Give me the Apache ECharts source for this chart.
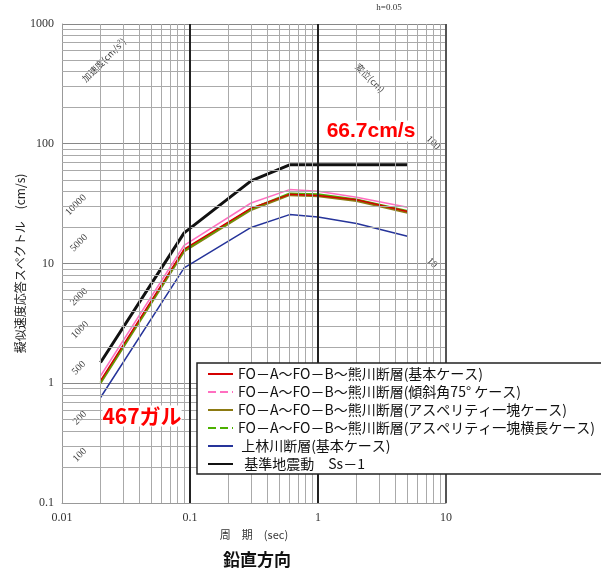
<!DOCTYPE html>
<html><head><meta charset="utf-8">
<script src="https://cdn.jsdelivr.net/npm/echarts@6/dist/echarts.min.js"></script>
<style>html,body{margin:0;padding:0;background:#fff}#c{width:601px;height:575px}</style>
</head><body><div id="c"></div>
<script>
// ---- data ----
const periods = [0.02, 0.09, 0.3, 0.6, 1, 2, 5];
const ssPeriods = [0.02, 0.09, 0.3, 0.6, 5];
const ss1 = [1.49, 18, 49, 66.7, 66.7];
const foBase = [1.05, 13.2, 29, 37.8, 37, 34, 27.2];
const foDip75 = [1.15, 14.2, 32, 41.4, 40.2, 35.8, 29.5];
const foAsp = [1.0, 12.6, 28, 37.2, 36.4, 33.2, 26.5];
const foAspWide = [1.02, 12.9, 28.6, 38.5, 37.8, 34.2, 27.5];
const kambayashi = [0.76, 9.2, 20, 25.6, 24.4, 21.6, 16.9];
const seriesNames = [
  'FO－A～FO－B～熊川断層(基本ケース)',
  'FO－A～FO－B～熊川断層(傾斜角75° ケース)',
  'FO－A～FO－B～熊川断層(アスペリティ一塊ケース)',
  'FO－A～FO－B～熊川断層(アスペリティ一塊横長ケース)',
  ' 上林川断層(基本ケース)',
  '  基準地震動　Ss－1'
];
const xMinorTicks = [0.02,0.03,0.04,0.05,0.06,0.07,0.08,0.09,0.2,0.3,0.4,0.5,0.6,0.7,0.8,0.9,2,3,4,5,6,7,8,9];
const yMinorTicks = [0.2,0.3,0.4,0.5,0.6,0.7,0.8,0.9,2,3,4,5,6,7,8,9,20,30,40,50,60,70,80,90,200,300,400,500,600,700,800,900];
const xMajorDark = [0.1, 1];
const accelLabels = ['10000','5000','2000','1000','500','200','100'];
const dispLabels = ['100','10'];

const pair = (ts, vs) => ts.map((t, i) => [t, vs[i]]);
const serif = 'Liberation Serif';
const jp = 'Noto Sans CJK JP';

const chart = echarts.init(document.getElementById('c'), null, {renderer: 'canvas'});

function mkSeries(name, ts, vs, color, width, z) {
  return {name, type: 'line', data: pair(ts, vs), symbol: 'none', showSymbol: false, z: z,
    lineStyle: {color, width}, itemStyle: {color}, silent: true};
}

// annotation label positions (pixels)
const accelPos = [[76,205],[79,243],[79,297],[80,330],[79,368],[80,418],[80,455]];
const dispPos = [[433,143],[432,263]];

const graphics = [];
accelLabels.forEach((t, i) => graphics.push({type:'text', x: accelPos[i][0], y: accelPos[i][1], rotation: Math.PI/4,
  style:{text:t, font:'10px ' + serif, fill:'#444', textAlign:'center', textVerticalAlign:'middle'}}));
dispLabels.forEach((t, i) => graphics.push({type:'text', x: dispPos[i][0], y: dispPos[i][1], rotation: -Math.PI/4,
  style:{text:t, font:'10px ' + serif, fill:'#444', textAlign:'center', textVerticalAlign:'middle'}}));
graphics.push({type:'text', x:104, y:60, rotation: Math.PI/4,
  style:{text:'加速度(cm/s²)', font:'9px ' + jp, fill:'#444', textAlign:'center', textVerticalAlign:'middle'}});
graphics.push({type:'text', x:370, y:78, rotation: -Math.PI/4,
  style:{text:'変位(cm)', font:'9px ' + jp, fill:'#444', textAlign:'center', textVerticalAlign:'middle'}});
graphics.push({type:'text', x:389, y:8, style:{text:'h=0.05', font:'9px ' + serif, fill:'#333', textAlign:'center', textVerticalAlign:'middle'}});
graphics.push({type:'text', x:371, y:131, z:20, style:{text:'66.7cm/s', font:'bold 21px Liberation Sans', fill:'#ff0000', textAlign:'center', textVerticalAlign:'middle', backgroundColor:'#fff'}});
graphics.push({type:'text', x:142, y:416, z:20, style:{text:'467ガル', font:'bold 21px ' + jp, fill:'#ff0000', textAlign:'center', textVerticalAlign:'middle', backgroundColor:'#fff'}});
graphics.push({type:'text', x:257, y:560, style:{text:'鉛直方向', font:'bold 17px ' + jp, fill:'#111', textAlign:'center', textVerticalAlign:'middle'}});

const option = {
  animation: false,
  backgroundColor: '#fff',
  grid: {left: 62, top: 24, width: 384, height: 479, containLabel: false},
  xAxis: {type: 'log', logBase: 10, min: 0.01, max: 10,
    name: '周　期　(sec)', nameLocation: 'middle', nameGap: 26,
    nameTextStyle: {fontFamily: jp, fontSize: 11, color: '#333'},
    axisLine: {show: true, lineStyle: {color: '#999', width: 1}},
    axisTick: {show: false},
    axisLabel: {fontFamily: serif, fontSize: 12, color: '#333', margin: 9,
      formatter: v => String(+Number(v).toPrecision(2))},
    splitLine: {show: true, lineStyle: {color: ['#999','#222','#222','#444'], width: 1}}},
  yAxis: {type: 'log', logBase: 10, min: 0.1, max: 1000,
    name: '擬似速度応答スペクトル　(cm/s)', nameLocation: 'middle', nameGap: 36, nameRotate: 90,
    nameMoveOverlap: false,
    nameTextStyle: {fontFamily: jp, fontSize: 12, color: '#222'},
    axisLine: {show: true, lineStyle: {color: '#999', width: 1}},
    axisTick: {show: false},
    axisLabel: {fontFamily: serif, fontSize: 12, color: '#333', margin: 8,
      formatter: v => String(+Number(v).toPrecision(2))},
    splitLine: {show: true, lineStyle: {color: '#888', width: 1}}},
  legend: {orient: 'vertical', left: 197, top: 363, z: 10,
    itemWidth: 25, itemHeight: 12, itemGap: 4,
    padding: [4, 8, 3, 10],
    itemStyle: {opacity: 0},
    backgroundColor: '#fff', borderColor: '#222', borderWidth: 1.5, borderRadius: 0,
    textStyle: {fontFamily: jp, fontSize: 14, color: '#111'},
    data: [
      {name: seriesNames[0]},
      {name: seriesNames[1], lineStyle: {type: 'dashed'}},
      {name: seriesNames[2]},
      {name: seriesNames[3], lineStyle: {type: 'dashed'}},
      {name: seriesNames[4]},
      {name: seriesNames[5]}
    ]},
  graphic: graphics,
  series: [
    {type: 'line', name: '_grid', data: [[1, 1]], symbol: 'none', lineStyle: {opacity: 0}, silent: true, z: 1,
      markLine: {silent: true, symbol: 'none', label: {show: false}, animation: false,
        lineStyle: {color: '#aaa', width: 1, type: 'solid'},
        data: xMinorTicks.map(v => ({xAxis: v})).concat(yMinorTicks.map(v => ({yAxis: v})))}},
    {type: 'line', name: '_major', data: [[1, 1]], symbol: 'none', lineStyle: {opacity: 0}, silent: true, z: 1,
      markLine: {silent: true, symbol: 'none', label: {show: false}, animation: false,
        lineStyle: {color: '#222', width: 2, type: 'solid'},
        data: xMajorDark.map(v => ({xAxis: v})).concat([{xAxis: 10, lineStyle: {color: '#555', width: 2}}])}},
    mkSeries(seriesNames[4], periods, kambayashi, '#26349a', 1.5, 3),
    mkSeries(seriesNames[2], periods, foAsp, '#8c7a12', 2, 3),
    mkSeries(seriesNames[3], periods, foAspWide, '#4cb000', 2, 3),
    mkSeries(seriesNames[0], periods, foBase, '#d40000', 1.5, 3),
    mkSeries(seriesNames[1], periods, foDip75, '#ff6fc0', 1.5, 3),
    mkSeries(seriesNames[5], ssPeriods, ss1, '#111111', 3, 4)
  ]
};
chart.setOption(option);
</script>
</body></html>
